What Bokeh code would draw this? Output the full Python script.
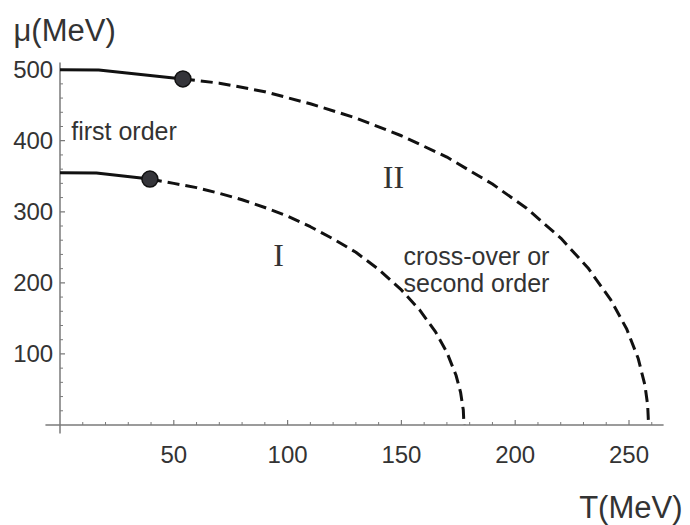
from bokeh.plotting import figure
from bokeh.models import Range1d, Label
from bokeh.core.properties import value
from bokeh.embed import file_html
from bokeh.resources import INLINE

# ---- data ----
# Curve I : solid (first order) part and dashed (cross-over) part
c1_solid_T = [0, 16, 39.5]
c1_solid_mu = [355, 354.5, 346]
c1_dash_T = [39.5, 50, 60, 70, 80, 90, 100, 110, 120, 130, 140, 150, 158, 165, 170, 174, 176, 177.2, 177.5]
c1_dash_mu = [346, 340, 334, 326, 317, 306, 294, 279, 262, 243, 219, 190, 162, 131, 102, 70, 46, 21, 0]

# Curve II
c2_solid_T = [0, 17, 54]
c2_solid_mu = [500, 499.5, 487]
c2_dash_T = [54, 70, 90, 110, 130, 150, 170, 190, 205, 220, 232, 242, 249, 254, 257, 258.2, 258.6]
c2_dash_mu = [487, 481, 469, 452, 432, 407, 377, 339, 305, 263, 221, 176, 135, 94, 56, 28, 0]

# critical end points
crit_T = [39.5, 54]
crit_mu = [346, 487]

x_major = [50, 100, 150, 200, 250]
x_minor = [10, 20, 30, 40, 60, 70, 80, 90, 110, 120, 130, 140, 160, 170, 180, 190,
           210, 220, 230, 240, 260]
y_major = [100, 200, 300, 400, 500]
y_minor = [20, 40, 60, 80, 120, 140, 160, 180, 220, 240, 260, 280, 320, 340, 360, 380,
           420, 440, 460, 480]
x_labels = [str(v) for v in x_major]
y_labels = [str(v) for v in y_major]

# plot range of the axes (Mathematica-style crossing axes)
X_AX = (-6.4, 265.2)
Y_AX = (-12, 510)

FONT = "Liberation Sans"
SERIF = "Liberation Serif"
TXT = "#333333"
AX = "#7a7a7a"

W, H = 690, 525
# page geometry: T=0 at page x 59.5, mu=0 at page y 424.5
X0, SX = 59.5, 2.276
Y0, SY = 424.5, 0.7107


def px(xpage):
    return (xpage - X0) / SX


def py(ypage):
    return (Y0 - ypage) / SY


p = figure(width=W, height=H, output_backend="svg", toolbar_location=None,
           x_range=Range1d(px(0), px(W)), y_range=Range1d(py(H), py(0)),
           x_axis_type=None, y_axis_type=None,
           min_border_left=0, min_border_right=0, min_border_top=0, min_border_bottom=0)
p.outline_line_color = None
p.grid.visible = False
p.background_fill_color = "white"
p.border_fill_color = "white"

# axes
p.segment(x0=[X_AX[0]], y0=[0], x1=[X_AX[1]], y1=[0], line_color=AX, line_width=1.5)
p.segment(x0=[0], y0=[Y_AX[0]], x1=[0], y1=[Y_AX[1]], line_color=AX, line_width=1.5)
# ticks (pointing into the plot)
p.segment(x0=x_major, y0=[0] * len(x_major), x1=x_major, y1=[5 / SY] * len(x_major),
          line_color=AX, line_width=1.2)
p.segment(x0=x_minor, y0=[0] * len(x_minor), x1=x_minor, y1=[3 / SY] * len(x_minor),
          line_color=AX, line_width=1.0)
p.segment(x0=[0] * len(y_major), y0=y_major, x1=[5 / SX] * len(y_major), y1=y_major,
          line_color=AX, line_width=1.2)
p.segment(x0=[0] * len(y_minor), y0=y_minor, x1=[3 / SX] * len(y_minor), y1=y_minor,
          line_color=AX, line_width=1.0)
# tick labels
p.text(x=x_major, y=[py(454)] * len(x_major), text=x_labels, text_align="center",
       text_baseline="alphabetic", text_font=value(FONT), text_font_size=value("24px"),
       text_color=TXT)
p.text(x=[px(52.7)] * len(y_major), y=y_major, text=y_labels, text_align="right",
       text_baseline="middle", text_font=value(FONT), text_font_size=value("24px"),
       text_color=TXT)

# curves
p.line(c1_solid_T, c1_solid_mu, line_color="#111111", line_width=3)
p.line(c1_dash_T, c1_dash_mu, line_color="#111111", line_width=3, line_dash="12 6")
p.line(c2_solid_T, c2_solid_mu, line_color="#111111", line_width=3)
p.line(c2_dash_T, c2_dash_mu, line_color="#111111", line_width=3, line_dash="12 6")
p.scatter(crit_T, crit_mu, size=16, fill_color="#35353a", line_color="#111111", line_width=1.5)


# annotations
def lab(x, y, t, size="25px", font=FONT, align="left"):
    p.add_layout(Label(x=x, y=y, text=t, text_font=font, text_font_size=size,
                       text_color=TXT, text_align=align, text_baseline="alphabetic"))


lab(px(13), py(30), "μ(MeV)", size="31px")
lab(px(682), py(507), "T(MeV)", size="31px", align="right")
lab(px(70.7), py(130), "first order")
lab(px(403), py(255), "cross-over or")
lab(px(403), py(282), "second order")
lab(px(393), py(176), "II", size="32px", font=SERIF, align="center")
lab(px(278), py(254), "I", size="32px", font=SERIF, align="center")

open("out.html", "w").write(file_html(p, INLINE))
